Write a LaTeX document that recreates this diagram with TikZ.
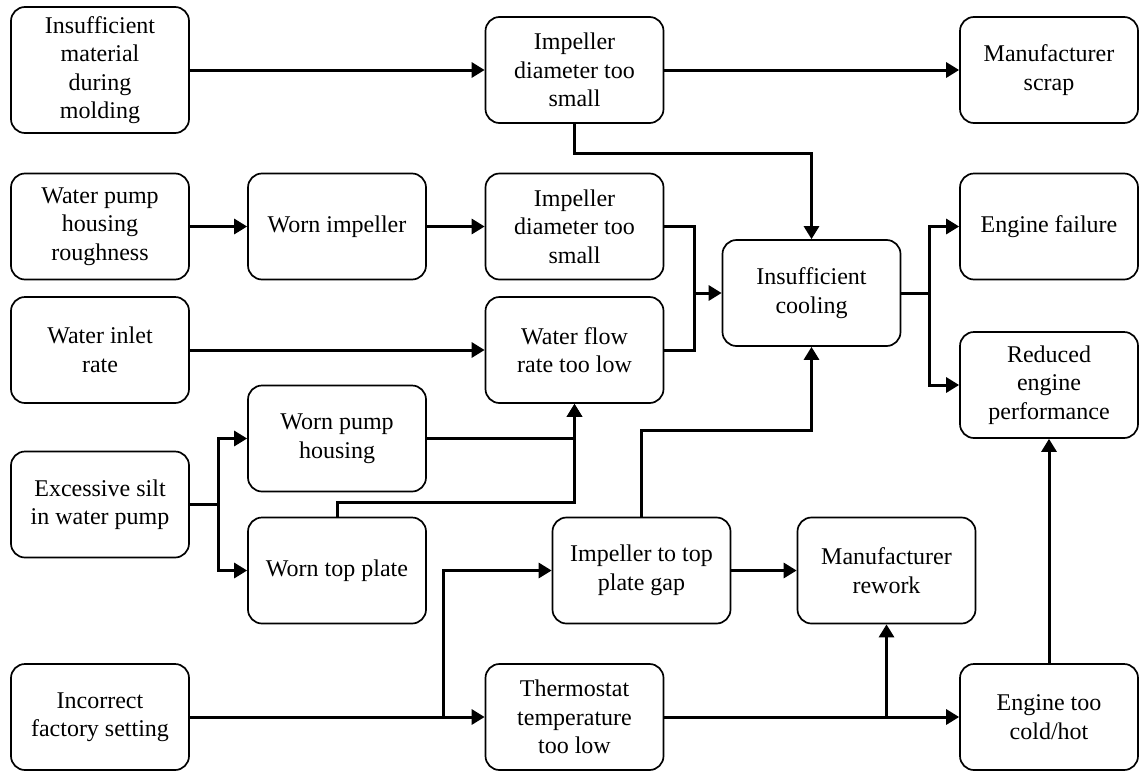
\documentclass[tikz,border=0pt]{standalone}
\usepackage{fontspec}
\setmainfont{Liberation Serif}
\usetikzlibrary{arrows.meta}
\begin{document}
\begin{tikzpicture}[x=1pt,y=-1pt,
  box/.style={draw, line width=1.7pt, rounded corners=14pt, minimum width=178pt,
    minimum height=106pt, inner sep=0pt, align=center,
    font=\fontsize{24}{28.5}\selectfont},
  link/.style={line width=3pt},
  arr/.style={link, -{Triangle[length=13pt,width=15pt]}}]
\useasboundingbox (0,0) rectangle (1139,771);

% boxes
\node[box, minimum height=126pt] (mold) at (100,70) {Insufficient\\material\\during\\molding};
\node[box] (imp1) at (574.5,70) {Impeller\\diameter too\\small};
\node[box] (scrap) at (1049,70) {Manufacturer\\scrap};
\node[box] (rough) at (100,226.5) {Water pump\\housing\\roughness};
\node[box] (wimp) at (337,226.5) {Worn impeller};
\node[box] (imp2) at (574.5,226.5) {Impeller\\diameter too\\small};
\node[box] (fail) at (1049,226.5) {Engine failure};
\node[box] (cool) at (811.5,293) {Insufficient\\cooling};
\node[box] (inlet) at (100,350) {Water inlet\\rate};
\node[box] (flow) at (574.5,350) {Water flow\\rate too low};
\node[box] (reduced) at (1049,385) {Reduced\\engine\\performance};
\node[box] (wph) at (337,438.5) {Worn pump\\housing};
\node[box] (silt) at (100,504.5) {Excessive silt\\in water pump};
\node[box] (wtp) at (337,570.5) {Worn top plate};
\node[box] (gap) at (641.5,570.5) {Impeller to top\\plate gap};
\node[box] (rework) at (886.5,570.5) {Manufacturer\\rework};
\node[box] (fact) at (100,717) {Incorrect\\factory setting};
\node[box] (thermo) at (574.5,717) {Thermostat\\temperature\\too low};
\node[box] (cold) at (1049,717) {Engine too\\cold/hot};

% junction points
\coordinate (jcool) at (694,293);
\coordinate (jeff) at (929,293);
\coordinate (jsilt) at (218,504.5);
\coordinate (jfact) at (443,717);
\coordinate (jtherm) at (886.5,717);

% connectors
\draw[arr] (mold.east |- imp1.west) -- (imp1.west);
\draw[arr] (imp1.east) -- (scrap.west);
\draw[arr] (imp1.south) -- ++(0,30) -| (cool.north);
\draw[arr] (rough.east) -- (wimp.west);
\draw[arr] (wimp.east) -- (imp2.west);
\draw[link] (imp2.east) -| (jcool);
\draw[link] (flow.east) -| (jcool);
\draw[arr] (jcool) -- (cool.west);
\draw[link] (cool.east) -- (jeff);
\draw[arr] (jeff) |- (fail.west);
\draw[arr] (jeff) |- (reduced.west);
\draw[arr] (inlet.east) -- (flow.west);
\draw[link] (silt.east) -- (jsilt);
\draw[arr] (jsilt) |- (wph.west);
\draw[arr] (jsilt) |- (wtp.west);
\draw[arr] (wph.east) -| (flow.south);
\draw[arr] (wtp.north) -- ++(0,-14) -| (flow.south);
\draw[arr] (gap.north) -- ++(0,-86) -| (cool.south);
\draw[arr] (fact.east) -- (thermo.west);
\draw[arr] (jfact) |- (gap.west);
\draw[arr] (gap.east) -- (rework.west);
\draw[arr] (thermo.east) -- (cold.west);
\draw[arr] (jtherm) -- (rework.south);
\draw[arr] (cold.north) -- (reduced.south);
\end{tikzpicture}
\end{document}
